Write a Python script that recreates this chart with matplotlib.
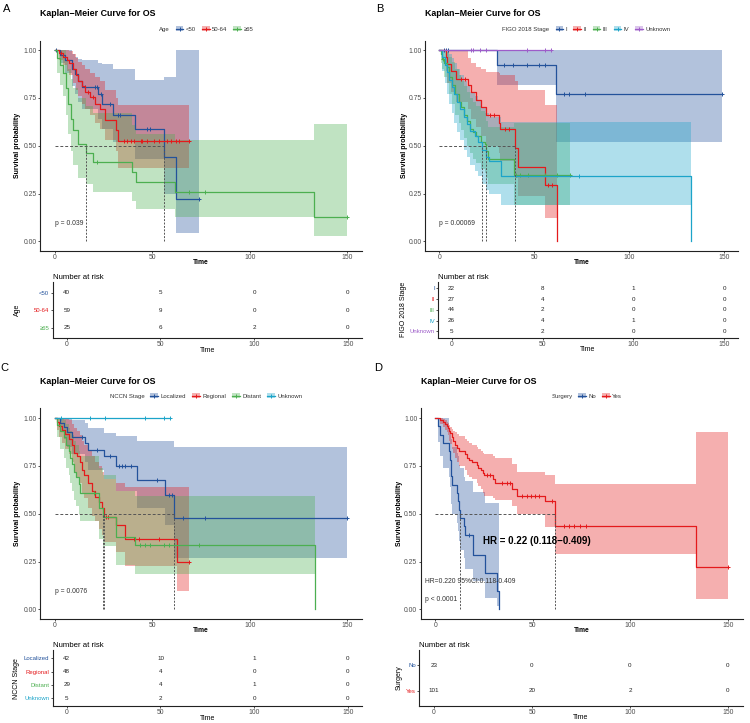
import numpy as np
import matplotlib.pyplot as plt
from matplotlib.patches import Patch
from matplotlib.lines import Line2D

plt.rcParams['font.family'] = ['Liberation Sans', 'DejaVu Sans']

W, H = 750, 723

BLUE = '#23529B'
RED = '#E41A1C'
GREEN = '#4CAF50'
CYAN = '#1CA4C9'
PURPLE = '#9D5CC9'

TIME_TICKS = [0, 50, 100, 150]

# ---------------- Panel A : Age ----------------
A_names = ['<50', '50-64', '≥65']
A_risk = [[40, 5, 0, 0], [59, 9, 0, 0], [25, 6, 2, 0]]

A1_t = [0, 2.7, 5.3, 8.7, 10.4, 12.2, 13.9, 22.4, 24.1, 30.0, 41.3, 56.2, 62.3]
A1_s = [1, 0.975, 0.95, 0.90, 0.875, 0.84, 0.805, 0.77, 0.72, 0.66, 0.585, 0.44, 0.22]
A1_hi = [1, 1, 1, 0.98, 0.965, 0.955, 0.946, 0.935, 0.925, 0.90, 0.846, 0.86, 1.0]
A1_lo = [1, 0.93, 0.88, 0.81, 0.77, 0.73, 0.69, 0.64, 0.59, 0.52, 0.43, 0.25, 0.045]
A1_end = 73.8
A1_cens = [0.8, 15.8, 20.8, 21.7, 23.8, 28.6, 32.5, 33.7, 47.4, 49.1, 73.8]

A2_t = [0, 2.4, 4.5, 6.2, 7.5, 9.2, 11.0, 12.2, 13.9, 15.6, 18.1, 20.5, 23.5, 26.0, 31.2, 32.4]
A2_s = [1, 0.983, 0.966, 0.949, 0.93, 0.90, 0.87, 0.84, 0.81, 0.78, 0.755, 0.72, 0.69, 0.633, 0.58, 0.525]
A2_hi = [1, 1, 1, 1, 0.995, 0.98, 0.96, 0.94, 0.92, 0.90, 0.88, 0.86, 0.84, 0.79, 0.75, 0.712]
A2_lo = [1, 0.95, 0.92, 0.89, 0.87, 0.83, 0.79, 0.76, 0.72, 0.69, 0.66, 0.62, 0.59, 0.53, 0.47, 0.386]
A2_end = 68.8
A2_cens = [3.5, 17.0, 19.7, 35.4, 37.2, 38.9, 40.6, 44.0, 44.9, 47.4, 50.9, 53.4,
           57.7, 59.4, 62.0, 63.7, 68.8]

A3_t = [0, 1.0, 2.5, 4.5, 6.0, 7.0, 8.5, 9.5, 12.2, 16.2, 19.5, 39.5, 41.8, 61.5, 132.9]
A3_s = [1, 0.96, 0.92, 0.88, 0.80, 0.72, 0.64, 0.58, 0.51, 0.46, 0.415, 0.363, 0.31, 0.26, 0.13]
A3_hi = [1, 1, 1, 1, 0.95, 0.90, 0.85, 0.80, 0.75, 0.71, 0.67, 0.61, 0.56, 0.53, 0.615]
A3_lo = [1, 0.88, 0.82, 0.76, 0.66, 0.56, 0.47, 0.40, 0.33, 0.30, 0.258, 0.21, 0.17, 0.13, 0.03]
A3_end = 149.6
A3_cens = [21.7, 68.8, 76.9, 149.6]

# ---------------- Panel B : FIGO 2018 Stage ----------------
B_names = ['I', 'II', 'III', 'IV', 'Unknown']
B_risk = [[22, 8, 1, 0], [27, 4, 0, 0], [44, 2, 0, 0], [26, 4, 1, 0], [5, 2, 0, 0]]

B1_t = [0, 30.7, 61.4]
B1_s = [1, 0.923, 0.773]
B1_hi = [1, 1, 1]
B1_lo = [1, 0.82, 0.52]
B1_end = 149.2
B1_cens = [2.5, 3.4, 4.6, 34.1, 38.7, 46.5, 52.8, 55.8, 65.6, 68.5, 76.7, 149.2]

B2_t = [0, 3.4, 4.3, 6.0, 8.7, 15.3, 17.0, 19.6, 22.2, 24.4, 31.5, 32.1, 39.8, 41.5, 55.6, 62.2]
B2_s = [1, 0.963, 0.926, 0.889, 0.85, 0.815, 0.78, 0.74, 0.70, 0.66, 0.62, 0.585, 0.49, 0.39, 0.293, 0]
B2_hi = [1, 1, 1, 1, 1, 0.956, 0.93, 0.91, 0.90, 0.886, 0.88, 0.87, 0.84, 0.79, 0.712, 0.712]
B2_lo = [1, 0.89, 0.83, 0.78, 0.73, 0.69, 0.64, 0.60, 0.55, 0.50, 0.46, 0.42, 0.33, 0.24, 0.12, 0.12]
B2_end = 62.2
B2_cens = [11.5, 13.5, 27.0, 28.8, 34.5, 37.0, 57.5, 59.5]

B3_t = [0, 0.85, 1.7, 2.6, 3.9, 5.1, 6.8, 8.5, 10.2, 11.4, 12.8, 14.5, 16.2, 17.9, 19.6,
        22.2, 23.9, 24.7, 25.6, 39.2]
B3_s = [1, 0.977, 0.955, 0.932, 0.909, 0.86, 0.82, 0.77, 0.73, 0.70, 0.66, 0.63, 0.59, 0.57,
        0.55, 0.52, 0.51, 0.47, 0.43, 0.345]
B3_hi = [1, 1, 1, 1, 0.99, 0.965, 0.94, 0.90, 0.87, 0.84, 0.81, 0.78, 0.75, 0.73, 0.71,
         0.68, 0.67, 0.63, 0.60, 0.62]
B3_lo = [1, 0.93, 0.90, 0.86, 0.83, 0.77, 0.72, 0.66, 0.62, 0.58, 0.54, 0.50, 0.46, 0.43,
         0.41, 0.38, 0.36, 0.33, 0.30, 0.19]
B3_end = 68.8
B3_cens = [2.0, 40.5, 42.8, 47.0, 55.8, 62.0, 68.8]

B4_t = [0, 1.7, 2.9, 3.9, 5.1, 6.8, 7.7, 9.4, 11.1, 12.8, 14.5, 16.2, 18.8, 20.5, 22.7,
        24.4, 26.4, 32.4, 132.5]
B4_s = [1, 0.962, 0.923, 0.885, 0.846, 0.808, 0.77, 0.73, 0.69, 0.65, 0.615, 0.575, 0.55,
        0.52, 0.48, 0.44, 0.42, 0.34, 0]
B4_hi = [1, 1, 1, 0.99, 0.98, 0.96, 0.93, 0.90, 0.87, 0.84, 0.81, 0.78, 0.76, 0.735, 0.70,
         0.67, 0.65, 0.625, 0.625]
B4_lo = [1, 0.89, 0.83, 0.77, 0.72, 0.67, 0.62, 0.57, 0.53, 0.48, 0.44, 0.40, 0.37, 0.34,
         0.30, 0.27, 0.25, 0.188, 0.188]
B4_end = 132.5
B4_cens = [73.8]

B5_t = [0]
B5_s = [1]
B5_hi = [1]
B5_lo = [1]
B5_end = 58.8
B5_cens = [17.0, 17.9, 21.3, 24.7, 46.5, 55.8, 58.8]

# ---------------- Panel C : NCCN Stage ----------------
C_names = ['Localized', 'Regional', 'Distant', 'Unknown']
C_risk = [[42, 10, 1, 0], [48, 4, 0, 0], [29, 4, 1, 0], [5, 2, 0, 0]]

C1_t = [0, 3.0, 4.6, 6.3, 8.9, 15.8, 17.0, 25.2, 31.2, 42.0, 56.3, 61.1]
C1_s = [1, 0.976, 0.952, 0.928, 0.90, 0.87, 0.835, 0.80, 0.75, 0.675, 0.60, 0.48]
C1_hi = [1, 1, 1, 1, 0.99, 0.974, 0.95, 0.92, 0.905, 0.878, 0.878, 0.85]
C1_lo = [1, 0.93, 0.89, 0.85, 0.81, 0.77, 0.73, 0.68, 0.62, 0.53, 0.44, 0.267]
C1_end = 150
C1_cens = [14.0, 21.7, 28.6, 33.0, 34.6, 36.3, 39.2, 52.6, 58.6, 60.3, 65.9, 76.9, 150]

C2_t = [0, 1.2, 2.1, 3.8, 5.5, 7.2, 8.9, 10.1, 11.5, 12.8, 14.0, 15.2, 17.0, 19.2, 20.9,
        22.6, 24.3, 25.5, 31.2, 35.8, 62.8]
C2_s = [1, 0.979, 0.958, 0.937, 0.915, 0.89, 0.86, 0.82, 0.80, 0.77, 0.73, 0.70, 0.66, 0.62,
        0.59, 0.56, 0.53, 0.485, 0.44, 0.37, 0.25]
C2_hi = [1, 1, 1, 1, 1, 0.99, 0.97, 0.95, 0.93, 0.91, 0.88, 0.86, 0.83, 0.80, 0.77, 0.75,
         0.72, 0.68, 0.66, 0.642, 0.642]
C2_lo = [1, 0.94, 0.90, 0.87, 0.84, 0.81, 0.77, 0.72, 0.69, 0.66, 0.61, 0.58, 0.53, 0.49,
         0.46, 0.42, 0.39, 0.35, 0.30, 0.225, 0.096]
C2_end = 68.8
C2_cens = [26.5, 27.5, 40.5, 43.0, 53.7, 68.8]

C3_t = [0, 1.2, 2.9, 4.6, 6.0, 7.2, 8.0, 8.9, 10.1, 11.1, 12.3, 13.2, 22.6, 24.8, 31.2, 41.4, 133.2]
C3_s = [1, 0.966, 0.93, 0.90, 0.86, 0.83, 0.79, 0.76, 0.72, 0.69, 0.655, 0.61, 0.53, 0.485,
        0.38, 0.337, 0]
C3_hi = [1, 1, 1, 0.99, 0.97, 0.95, 0.93, 0.91, 0.88, 0.86, 0.83, 0.80, 0.74, 0.70, 0.62,
         0.593, 0.593]
C3_lo = [1, 0.90, 0.84, 0.79, 0.74, 0.70, 0.66, 0.62, 0.57, 0.54, 0.50, 0.46, 0.37, 0.33,
         0.23, 0.187, 0.187]
C3_end = 133.2
C3_cens = [20.0, 43.8, 46.3, 48.8, 55.9, 58.5, 73.8]

C4_t = [0]
C4_s = [1]
C4_hi = [1]
C4_lo = [1]
C4_end = 59.3
C4_cens = [3.2, 18.3, 25.7, 46.5, 55.9, 59.3]

# ---------------- Panel D : Surgery ----------------
D_names = ['No', 'Yes']
D_risk = [[23, 0, 0, 0], [101, 20, 2, 0]]

D1_t = [0, 1.2, 2.4, 3.8, 7.0, 7.4, 7.8, 8.2, 8.7, 11.0, 11.6, 12.2, 12.7, 14.9, 15.2,
        19.5, 25.2, 31.5, 32.7]
D1_s = [1, 0.957, 0.913, 0.87, 0.826, 0.783, 0.739, 0.696, 0.652, 0.609, 0.565, 0.522,
        0.478, 0.435, 0.391, 0.284, 0.19, 0.095, 0]
D1_hi = [1, 1, 1, 1, 0.95, 0.93, 0.91, 0.89, 0.85, 0.82, 0.80, 0.755, 0.74, 0.694, 0.67,
         0.615, 0.557, 0.557, 0.557]
D1_lo = [1, 0.875, 0.80, 0.74, 0.69, 0.64, 0.59, 0.55, 0.50, 0.45, 0.41, 0.36, 0.31, 0.27,
         0.213, 0.15, 0.06, 0.02, 0]
D1_end = 32.7
D1_cens = [17.0]

D2_t = [0, 2.4, 4.1, 5.0, 5.8, 6.3, 7.0, 7.7, 8.4, 9.2, 10.1, 11.0, 12.2, 15.2, 16.1, 17.3,
        18.7, 21.2, 22.1, 23.5, 24.3, 25.0, 29.8, 30.7, 39.2, 41.8, 56.0, 61.5, 133.4]
D2_s = [1, 0.99, 0.98, 0.97, 0.96, 0.95, 0.93, 0.92, 0.90, 0.88, 0.86, 0.845, 0.83, 0.81,
        0.79, 0.78, 0.77, 0.755, 0.74, 0.73, 0.715, 0.70, 0.68, 0.66, 0.63, 0.595, 0.565,
        0.438, 0.22]
D2_hi = [1, 1, 0.995, 0.99, 0.98, 0.975, 0.965, 0.955, 0.945, 0.935, 0.925, 0.915, 0.905,
         0.89, 0.88, 0.87, 0.86, 0.85, 0.84, 0.83, 0.82, 0.81, 0.80, 0.79, 0.76, 0.72, 0.70,
         0.656, 0.927]
D2_lo = [1, 0.97, 0.955, 0.94, 0.925, 0.91, 0.88, 0.865, 0.84, 0.815, 0.79, 0.77, 0.75,
         0.73, 0.70, 0.69, 0.68, 0.66, 0.645, 0.63, 0.61, 0.595, 0.58, 0.57, 0.54, 0.50,
         0.433, 0.288, 0.054]
D2_end = 150.2
D2_cens = [26.4, 28.1, 34.1, 36.6, 38.4, 44.5, 47.1, 48.8, 51.0, 53.1, 59.9, 65.9, 68.5,
           71.1, 74.0, 77.4, 150.2]


def grp(t, s, lo, hi, end, cens):
    return dict(t=np.array(t, float), s=np.array(s, float), lo=np.array(lo, float),
                hi=np.array(hi, float), end=end, cens=np.array(cens, float))


def px_rect(l, t, r, b):
    return [l / W, 1 - b / H, (r - l) / W, (b - t) / H]


def style_ax(ax):
    for side in ['top', 'right']:
        ax.spines[side].set_visible(False)
    for side in ['left', 'bottom']:
        ax.spines[side].set_linewidth(0.8)
        ax.spines[side].set_color('#222222')
    ax.tick_params(length=1.6, width=0.6, color='#333333', labelcolor='#4D4D4D',
                   labelsize=4.9, pad=0.8)


def km_panel(main_rect, tab_rect, groups, names, colors, risk, legend_title,
             pval, ylab_main_x, ylab_tab_x, letter, letter_xy, title_y, legend_y):
    fig = plt.gcf()
    ax = fig.add_axes(px_rect(*main_rect))
    style_ax(ax)
    main_h = main_rect[3] - main_rect[1]

    # confidence ribbons
    for g, c in zip(groups, colors):
        tt = np.append(g['t'], g['end'])
        ax.fill_between(tt, np.append(g['lo'], g['lo'][-1]), np.append(g['hi'], g['hi'][-1]),
                        step='post', color=c, alpha=0.35, lw=0)
    # survival curves + censor marks
    for g, c in zip(groups, colors):
        tt = np.append(g['t'], g['end'])
        ss = np.append(g['s'], g['s'][-1])
        ax.step(tt, ss, where='post', color=c, lw=0.9)
        idx = np.searchsorted(g['t'], g['cens'], side='right') - 1
        ax.plot(g['cens'], g['s'][idx], ls='none', marker='+', ms=3.2, mew=0.7, color=c)

    # median survival lines
    meds = []
    for g in groups:
        below = np.where(g['s'] < 0.5)[0]
        if len(below):
            meds.append(g['t'][below[0]])
    if meds:
        ax.plot([0, max(meds)], [0.5, 0.5], ls=(0, (3, 2)), color='#555555', lw=0.7)
        for m in meds:
            ax.plot([m, m], [0, 0.5], ls=(0, (2, 1.5)), color='#555555', lw=0.7)

    ax.set_xlim(-7.5, 157.5)
    ax.set_ylim(-0.05, 1.05)
    ax.set_xticks(TIME_TICKS)
    ax.set_yticks([0, 0.25, 0.5, 0.75, 1.0])
    ax.set_yticklabels(['0.00', '0.25', '0.50', '0.75', '1.00'])
    ax.set_xlabel('Time', fontsize=4.9, fontweight='bold', va='center')
    ax.xaxis.set_label_coords(0.5, -12 / main_h)
    ax.set_ylabel('Survival probability', fontsize=5.0, fontweight='bold')
    ax.yaxis.set_label_coords((ylab_main_x - main_rect[0]) / (main_rect[2] - main_rect[0]), 0.5)
    if pval is not None:
        ax.text(0, 0.096, pval, fontsize=4.9, color='#333333', ha='left', va='center')

    # title, panel letter
    fig.text(main_rect[0] / W, 1 - title_y / H, 'Kaplan\u2212Meier Curve for OS',
             fontsize=6.4, fontweight='bold', ha='left', va='center')
    fig.text(letter_xy[0] / W, 1 - letter_xy[1] / H, letter, fontsize=8, ha='center', va='center')

    # legend
    handles = [Line2D([], [], ls='none')]
    labels = [legend_title]
    for n, c in zip(names, colors):
        handles.append((Patch(facecolor=c, alpha=0.35, lw=0),
                        Line2D([], [], color=c, lw=0.9, marker='+', ms=3, mew=0.7)))
        labels.append(n)
    cx = (main_rect[0] + main_rect[2]) / 2
    fig.legend(handles, labels, loc='center', bbox_to_anchor=(cx / W, 1 - legend_y / H),
               ncol=len(labels), frameon=False, fontsize=4.3, handlelength=1.3,
               handleheight=1.0, handletextpad=0.4, columnspacing=1.0, borderpad=0,
               labelcolor='#333333')

    # risk table
    tb = fig.add_axes(px_rect(*tab_rect))
    style_ax(tb)
    tab_h = tab_rect[3] - tab_rect[1]
    n = len(names)
    rows = np.arange(n, 0, -1)
    for r, vals in zip(rows, risk):
        for x, v in zip(TIME_TICKS, vals):
            tb.text(x, r, str(v), fontsize=4.5, ha='center', va='center', color='#222222')
    tb.set_xlim(-7.5, 157.5)
    tb.set_ylim(0.4, n + 0.6)
    tb.set_xticks(TIME_TICKS)
    tb.set_yticks(rows)
    tb.set_yticklabels(names, fontsize=4.3)
    for lbl, c in zip(tb.get_yticklabels(), colors):
        lbl.set_color(c)
    tb.set_xlabel('Time', fontsize=5.0, va='center')
    tb.xaxis.set_label_coords(0.5, -12 / tab_h)
    tb.set_ylabel(legend_title, fontsize=5.0)
    tb.yaxis.set_label_coords((ylab_tab_x - tab_rect[0]) / (tab_rect[2] - tab_rect[0]), 0.5)
    tb.text(0, 1.02, 'Number at risk', transform=tb.transAxes, fontsize=5.6,
            ha='left', va='bottom')
    return ax


fig = plt.figure(figsize=(7.5, 7.23), dpi=100)

A_groups = [grp(A1_t, A1_s, A1_lo, A1_hi, A1_end, A1_cens),
            grp(A2_t, A2_s, A2_lo, A2_hi, A2_end, A2_cens),
            grp(A3_t, A3_s, A3_lo, A3_hi, A3_end, A3_cens)]
km_panel((40, 40.5, 362, 251), (52.7, 282.3, 362, 338), A_groups, A_names,
         [BLUE, RED, GREEN], A_risk, 'Age', 'p = 0.039', 21, 20.7, 'A', (6.5, 9), 13, 29)

B_groups = [grp(B1_t, B1_s, B1_lo, B1_hi, B1_end, B1_cens),
            grp(B2_t, B2_s, B2_lo, B2_hi, B2_end, B2_cens),
            grp(B3_t, B3_s, B3_lo, B3_hi, B3_end, B3_cens),
            grp(B4_t, B4_s, B4_lo, B4_hi, B4_end, B4_cens),
            grp(B5_t, B5_s, B5_lo, B5_hi, B5_end, B5_cens)]
km_panel((425, 40.5, 738, 251), (438, 282, 738, 337.7), B_groups, B_names,
         [BLUE, RED, GREEN, CYAN, PURPLE], B_risk, 'FIGO 2018 Stage', 'p = 0.00069',
         408, 407, 'B', (380, 9), 13, 29)

C_groups = [grp(C1_t, C1_s, C1_lo, C1_hi, C1_end, C1_cens),
            grp(C2_t, C2_s, C2_lo, C2_hi, C2_end, C2_cens),
            grp(C3_t, C3_s, C3_lo, C3_hi, C3_end, C3_cens),
            grp(C4_t, C4_s, C4_lo, C4_hi, C4_end, C4_cens)]
km_panel((40, 408.5, 362, 619), (52.7, 650.3, 362, 706), C_groups, C_names,
         [BLUE, RED, GREEN, CYAN], C_risk, 'NCCN Stage', 'p = 0.0076',
         21, 20, 'C', (4.5, 368), 382, 396)

D_groups = [grp(D1_t, D1_s, D1_lo, D1_hi, D1_end, D1_cens),
            grp(D2_t, D2_s, D2_lo, D2_hi, D2_end, D2_cens)]
axd = km_panel((420.7, 408.5, 742.7, 619), (419.3, 650, 742.7, 705.7), D_groups, D_names,
               [BLUE, RED], D_risk, 'Surgery', None, 403, 403, 'D', (378.5, 368), 382, 396)
axd.text(24.5, 0.36, 'HR = 0.22 (0.118\u22120.409)', fontsize=7.0, fontweight='bold',
         ha='left', va='center')
axd.text(-5.3, 0.147, 'HR=0.220 95%CI:0.118-0.409', fontsize=4.9, color='#333333',
         ha='left', va='center')
axd.text(-5.3, 0.054, 'p < 0.0001', fontsize=4.9, color='#333333', ha='left', va='center')

fig.savefig('out.png', dpi=100)
